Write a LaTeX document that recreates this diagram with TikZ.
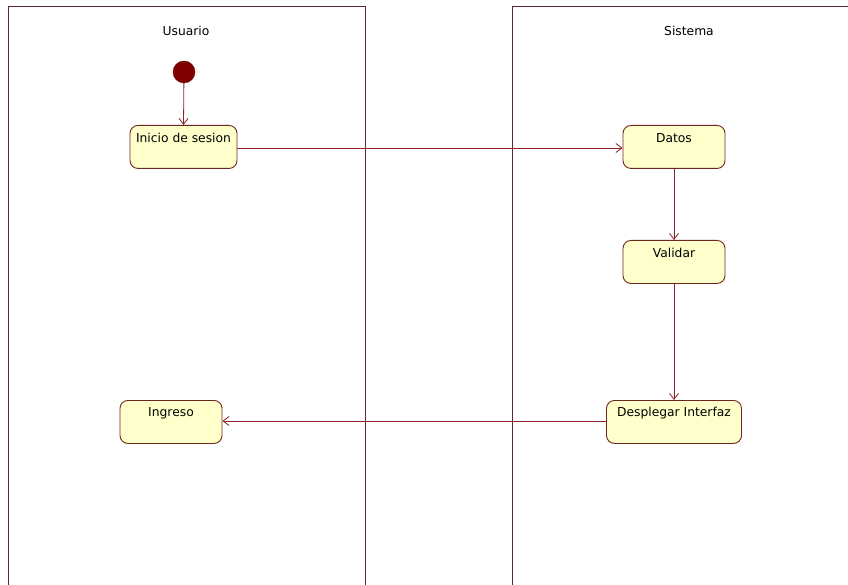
\documentclass[tikz,border=0pt]{standalone}
\usepackage{fontspec}
\setmainfont{DejaVu Sans}
\usetikzlibrary{arrows.meta}
\definecolor{lanecol}{RGB}{90,40,45}
\definecolor{edgecol}{RGB}{140,35,40}
\definecolor{boxfill}{RGB}{255,255,204}
\definecolor{boxline}{RGB}{110,40,30}
\definecolor{startfill}{RGB}{128,0,0}
\begin{document}
\begin{tikzpicture}[x=1pt,y=-1pt,
  lane/.style={draw=lanecol,line width=0.9pt},
  labelfont/.style={font=\fontsize{12.3}{14}\selectfont,text=black},
  action/.style={draw=boxline,fill=boxfill,rounded corners=8pt,line width=0.9pt,
    minimum height=43pt,anchor=north,inner sep=0pt},
  flow/.style={draw=edgecol,line width=0.8pt,-{Straight Barb[length=6pt,width=9pt]}}]
  \useasboundingbox (0,0) rectangle (848,585);
  \fill[white] (0,0) rectangle (848,585);

  % swimlanes
  \draw[lane] (8,585) -- (8,6) -- (365,6) -- (365,585);
  \draw[lane] (512,585) -- (512,6) -- (848,6);
  \node[labelfont] (usuario) at (186,31) {Usuario};
  \node[labelfont] (sistema) at (689,31) {Sistema};

  % initial state
  \node[circle,fill=startfill,draw=startfill!80!black,minimum size=22pt,inner sep=0pt] (start) at (184,72) {};

  % actions: box with the label near its top edge
  \node[action,minimum width=107pt] (inicio) at (183.5,125) {};
  \node[labelfont] at (183.5,138) {Inicio de sesion};
  \node[action,minimum width=102pt] (datos) at (674,125) {};
  \node[labelfont] at (674,138) {Datos};
  \node[action,minimum width=102pt] (validar) at (674,240) {};
  \node[labelfont] at (674,253) {Validar};
  \node[action,minimum width=135pt] (desplegar) at (674,400) {};
  \node[labelfont] at (674,413) {Desplegar Interfaz};
  \node[action,minimum width=102pt] (ingreso) at (171,400) {};
  \node[labelfont] at (171,413) {Ingreso};

  % transitions
  \draw[flow] (start) -- (inicio.north);
  \draw[flow] (inicio.east |- 0,148) -- (datos.west |- 0,148);
  \draw[flow] (datos.south) -- (validar.north);
  \draw[flow] (validar.south) -- (desplegar.north);
  \draw[flow] (desplegar.west |- 0,421) -- (ingreso.east |- 0,421);
\end{tikzpicture}
\end{document}
